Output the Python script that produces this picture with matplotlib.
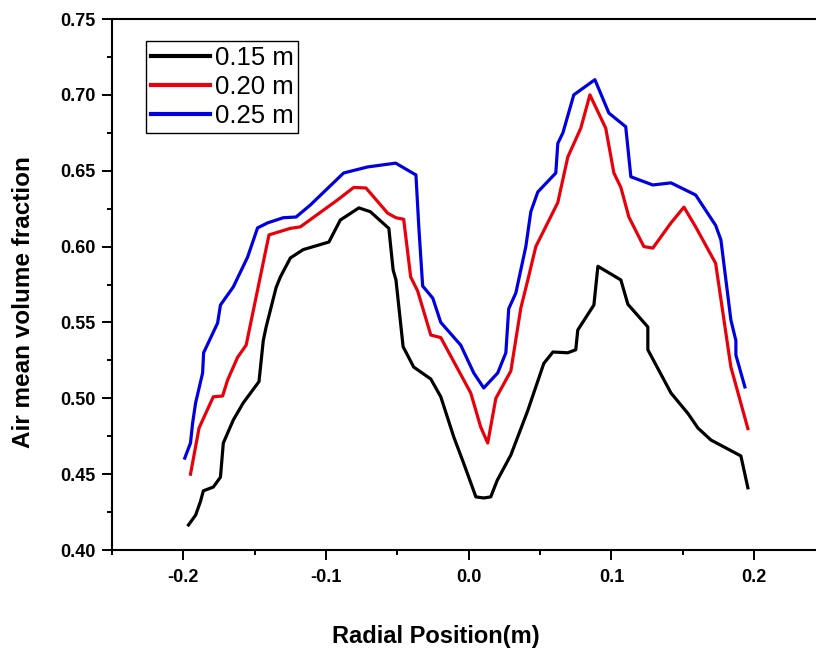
import numpy as np
import matplotlib
matplotlib.use("Agg")
import matplotlib.pyplot as plt
from matplotlib.ticker import MultipleLocator

plt.rcParams['font.family'] = ['Liberation Sans', 'DejaVu Sans']

# 0.15 m
x_015 = [-0.1964, -0.1914, -0.188, -0.186, -0.179, -0.174, -0.172, -0.165, -0.158, -0.147,
         -0.144, -0.142, -0.135, -0.132, -0.125, -0.116, -0.098, -0.090, -0.077, -0.069,
         -0.056, -0.053, -0.051, -0.046, -0.0386, -0.0266, -0.0196, -0.0105, -0.0035, 0.005,
         0.0105, 0.0154, 0.020, 0.0295, 0.0414, 0.0526, 0.059, 0.0694, 0.075, 0.0764,
         0.0877, 0.0905, 0.1066, 0.1115, 0.1255, 0.1255, 0.1417, 0.1536, 0.1606, 0.1697,
         0.1907, 0.1956]
y_015 = [0.4165, 0.423, 0.432, 0.439, 0.4415, 0.448, 0.4705, 0.4857, 0.497, 0.511,
         0.538, 0.547, 0.573, 0.580, 0.5925, 0.598, 0.603, 0.6175, 0.6255, 0.623,
         0.612, 0.5846, 0.578, 0.534, 0.5206, 0.5127, 0.501, 0.4745, 0.457, 0.435,
         0.4343, 0.435, 0.446, 0.4626, 0.492, 0.523, 0.5305, 0.530, 0.532, 0.545,
         0.5615, 0.587, 0.578, 0.562, 0.547, 0.532, 0.5035, 0.490, 0.4804, 0.4725,
         0.462, 0.441]

# 0.20 m
x_020 = [-0.195, -0.189, -0.179, -0.1725, -0.169, -0.162, -0.156, -0.140, -0.125, -0.118,
         -0.092, -0.0806, -0.072, -0.0568, -0.051, -0.0456, -0.0407, -0.0358, -0.0266, -0.0196,
         0.0014, 0.0084, 0.0133, 0.019, 0.0295, 0.0365, 0.0414, 0.047, 0.0624, 0.0694,
         0.0785, 0.0849, 0.096, 0.1017, 0.1066, 0.1122, 0.1227, 0.129, 0.1417, 0.1508,
         0.159, 0.173, 0.1816, 0.1837, 0.1956]
y_020 = [0.450, 0.4804, 0.501, 0.5015, 0.512, 0.527, 0.535, 0.6077, 0.612, 0.613,
         0.6307, 0.639, 0.6386, 0.622, 0.619, 0.618, 0.580, 0.5707, 0.5417, 0.540,
         0.5035, 0.481, 0.4705, 0.500, 0.518, 0.5595, 0.578, 0.600, 0.629, 0.659,
         0.678, 0.700, 0.678, 0.6485, 0.639, 0.6195, 0.600, 0.599, 0.6156, 0.626,
         0.613, 0.589, 0.534, 0.5206, 0.480]

# 0.25 m
x_025 = [-0.199, -0.195, -0.1935, -0.1914, -0.1865, -0.1858, -0.176, -0.174, -0.165, -0.155,
         -0.148, -0.141, -0.130, -0.121, -0.111, -0.0877, -0.0708, -0.0512, -0.037, -0.035,
         -0.0323, -0.0252, -0.0196, -0.0056, 0.0035, 0.0105, 0.0203, 0.026, 0.028, 0.033,
         0.040, 0.0435, 0.0484, 0.061, 0.0624, 0.066, 0.0736, 0.0884, 0.0982, 0.110,
         0.1136, 0.129, 0.1417, 0.159, 0.173, 0.1767, 0.1837, 0.1872, 0.1872, 0.1935]
y_025 = [0.4606, 0.4705, 0.4837, 0.497, 0.5167, 0.530, 0.5496, 0.5615, 0.5734, 0.593,
         0.6123, 0.6156, 0.619, 0.6195, 0.6274, 0.6485, 0.6525, 0.655, 0.6472, 0.613,
         0.574, 0.566, 0.550, 0.535, 0.5167, 0.5068, 0.5167, 0.530, 0.559, 0.5694,
         0.600, 0.623, 0.636, 0.6485, 0.668, 0.675, 0.700, 0.710, 0.688, 0.679,
         0.646, 0.6406, 0.642, 0.634, 0.614, 0.6044, 0.5516, 0.538, 0.5285, 0.5075]

fig = plt.figure(figsize=(8.16, 6.51), dpi=100)
ax = fig.add_axes([112 / 816, 101 / 651, 713.5 / 816, 531 / 651])

lw = 2.3
ax.plot(x_015, y_015, color='black', lw=lw, label='0.15 m')
ax.plot(x_020, y_020, color='#e8000b', lw=lw, label='0.20 m')
ax.plot(x_025, y_025, color='#0000e0', lw=lw, label='0.25 m')

ax.set_xlim(-0.25, 0.25)
ax.set_ylim(0.40, 0.75)
ax.xaxis.set_major_locator(MultipleLocator(0.1))
ax.xaxis.set_minor_locator(MultipleLocator(0.05))
ax.yaxis.set_major_locator(MultipleLocator(0.05))
ax.yaxis.set_minor_locator(MultipleLocator(0.025))
ax.set_xticks([-0.2, -0.1, 0.0, 0.1, 0.2])
ax.set_xticklabels(['-0.2', '-0.1', '0.0', '0.1', '0.2'])
ax.yaxis.set_major_formatter(plt.FormatStrFormatter('%.2f'))

ax.tick_params(which='major', direction='out', length=7, width=1.4)
ax.tick_params(which='minor', direction='out', length=3.8, width=1.4)
ax.tick_params(axis='x', which='major', pad=7)
ax.tick_params(axis='y', which='major', pad=5)
for lab in ax.get_xticklabels() + ax.get_yticklabels():
    lab.set_fontsize(13)
    lab.set_fontweight('bold')
for s in ax.spines.values():
    s.set_linewidth(1.5)

ax.set_xlabel('Radial Position(m)', fontsize=17, fontweight='bold')
ax.set_ylabel('Air mean volume fraction', fontsize=17.5, fontweight='bold')
ax.xaxis.set_label_coords(0.454, -0.162)
ax.yaxis.set_label_coords(-0.124, 0.467)
ax.xaxis.label.set_va('center')
ax.yaxis.label.set_va('center')

leg = ax.legend(loc='upper left', bbox_to_anchor=(0.0477, 0.9586), fontsize=18.5,
                frameon=True, fancybox=False, edgecolor='black', framealpha=1,
                handlelength=2.3, handletextpad=0.2, labelspacing=0.2,
                borderpad=0.18, borderaxespad=0)
leg.get_frame().set_linewidth(1.0)
for line in leg.get_lines():
    line.set_linewidth(3)

fig.savefig('out.png', dpi=100)
